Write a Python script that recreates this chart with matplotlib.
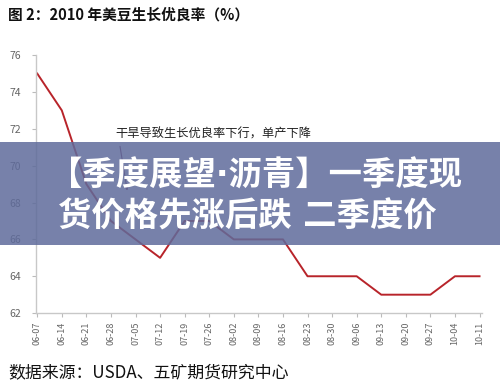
import matplotlib.pyplot as plt
from matplotlib.patches import Rectangle

plt.rcParams['font.family'] = ['Noto Sans CJK SC', 'DejaVu Sans']

# data
dates = ['06-07', '06-14', '06-21', '06-28', '07-05', '07-12', '07-19', '07-26',
         '08-02', '08-09', '08-16', '08-23', '08-30', '09-06', '09-13', '09-20',
         '09-27', '10-04', '10-11']
good_rate = [75, 73, 69, 67, 66, 65, 67, 67, 66, 66, 66, 64, 64, 64, 63, 63, 63, 64, 64]
y_ticks = [62, 64, 66, 68, 70, 72, 74, 76]

title = '图 2：2010 年美豆生长优良率（%）'
note = '干旱导致生长优良率下行，单产下降'
source = '数据来源：USDA、五矿期货研究中心'
banner = ['【季度展望·沥青】一季度现', '货价格先涨后跌 二季度价']

fig = plt.figure(figsize=(5, 3.88), dpi=100)
ax = fig.add_axes([0.072, 0.193, 0.892, 0.665])

x = list(range(len(dates)))
ax.plot(x, good_rate, color='#b8242a', linewidth=1.4)

ax.set_xlim(-0.05, len(dates) - 0.9)
ax.set_ylim(62, 76)
ax.set_yticks(y_ticks)
ax.set_xticks(x)
ax.set_xticklabels(dates, rotation=90)
ax.tick_params(axis='both', colors='#bbbbbb', labelcolor='#666666', length=3, width=0.8)
ax.tick_params(axis='y', labelsize=7.5, pad=8)
ax.tick_params(axis='x', labelsize=6.5, pad=3)
for side in ['top', 'right']:
    ax.spines[side].set_visible(False)
for side in ['left', 'bottom']:
    ax.spines[side].set_color('#c8c8c8')
    ax.spines[side].set_linewidth(1.0)

# annotation with arrow
ax.text(3.2, 71.7, note, fontsize=8.8, color='#222222', va='center', ha='left')
ax.annotate('', xy=(3.68, 68.5), xytext=(3.35, 71.2),
            arrowprops=dict(arrowstyle='-|>', color='#7a2a55', lw=0.8, mutation_scale=9))

# title and source
fig.text(0.016, 0.962, title, fontsize=10.6, fontweight='bold', color='#111111', va='center')
fig.text(0.016, 0.041, source, fontsize=12.2, color='#111111', va='center')

# overlay banner
fig.patches.append(Rectangle((0, 1 - 245 / 388), 1, 103 / 388, transform=fig.transFigure,
                             facecolor='#5f6b9b', alpha=0.85, edgecolor='none', zorder=5))
banner_font = ['DejaVu Sans', 'Noto Sans CJK SC']
fig.text(0.098, 1 - 176 / 388, banner[0], fontsize=24, fontweight='bold', color='white',
         va='center', ha='left', zorder=6, family=banner_font)
fig.text(0.116, 1 - 217 / 388, banner[1], fontsize=24, fontweight='bold', color='white',
         va='center', ha='left', zorder=6, family=banner_font)

fig.savefig('out.png', dpi=100)
